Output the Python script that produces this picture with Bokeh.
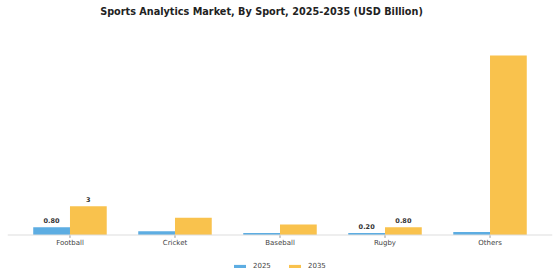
from bokeh.plotting import figure
from bokeh.models import ColumnDataSource, Legend, LegendItem, FactorRange, Range1d, Span, Label
from bokeh.transform import dodge
from bokeh.embed import file_html
from bokeh.resources import INLINE
from bokeh.core.properties import value

title_text = "Sports Analytics Market, By Sport, 2025-2035 (USD Billion)"
categories = ["Football", "Cricket", "Baseball", "Rugby", "Others"]
values_2025 = [0.8, 0.4, 0.2, 0.2, 0.3]
values_2035 = [3.0, 1.8, 1.1, 0.8, 18.7]
labels_2025 = ["0.80", "", "", "0.20", ""]
labels_2035 = ["3", "", "", "0.80", ""]
series = ["2025", "2035"]

src = ColumnDataSource(dict(cat=categories, v25=values_2025, v35=values_2035,
                            l25=labels_2025, l35=labels_2035,
                            zero=[0] * len(categories), tick=[-0.3] * len(categories)))

p = figure(width=560, height=280, output_backend="svg", toolbar_location=None,
           x_range=FactorRange(*categories, range_padding=0.095, range_padding_units="absolute"),
           y_range=Range1d(-4.74, 24.43), y_axis_location=None, x_axis_location=None,
           min_border_left=7, min_border_right=8, min_border_top=0, min_border_bottom=0)
p.outline_line_color = None
p.xgrid.visible = False
p.ygrid.visible = False
p.background_fill_color = "white"

blue = "#5DADE2"
yellow = "#F9C24D"

p.add_layout(Label(x=254, y=269, x_units="screen", y_units="screen", text=title_text,
                   text_align="center", text_baseline="middle", text_font="DejaVu Sans",
                   text_font_size="9.7px", text_font_style="bold", text_color="#222222"))

p.add_layout(Span(location=0, dimension="width", line_color="#dddddd", line_width=1))
p.segment(x0="cat", y0="zero", x1="cat", y1="tick", source=src, line_color="#999999", line_width=1)

r1 = p.vbar(x=dodge("cat", -0.175, range=p.x_range), top="v25", width=0.35, source=src,
            fill_color=blue, line_color=None)
r2 = p.vbar(x=dodge("cat", 0.175, range=p.x_range), top="v35", width=0.35, source=src,
            fill_color=yellow, line_color=None)

p.text(x=dodge("cat", -0.175, range=p.x_range), y="v25", text="l25", source=src,
       text_align="center", text_baseline="bottom", y_offset=-4,
       text_font=value("DejaVu Sans"), text_font_size="6.5px", text_font_style="bold",
       text_color="#333333")
p.text(x=dodge("cat", 0.175, range=p.x_range), y="v35", text="l35", source=src,
       text_align="center", text_baseline="bottom", y_offset=-4,
       text_font=value("DejaVu Sans"), text_font_size="6.5px", text_font_style="bold",
       text_color="#333333")

# category labels (x axis)
p.text(x="cat", y="zero", text="cat", source=src, text_align="center", text_baseline="top",
       y_offset=4, text_font=value("DejaVu Sans"), text_font_size="7px", text_color="#444444")

legend = Legend(items=[LegendItem(label=series[0], renderers=[r1]),
                       LegendItem(label=series[1], renderers=[r2])],
                orientation="horizontal", location=(225, 10),
                border_line_color=None, background_fill_alpha=0,
                label_text_font="DejaVu Sans", label_text_font_size="7px",
                label_text_color="#444444", glyph_width=15, glyph_height=4,
                spacing=14, padding=4, margin=0, label_standoff=6, label_height=8)
p.add_layout(legend, "center")

open("out.html", "w").write(file_html(p, INLINE))
